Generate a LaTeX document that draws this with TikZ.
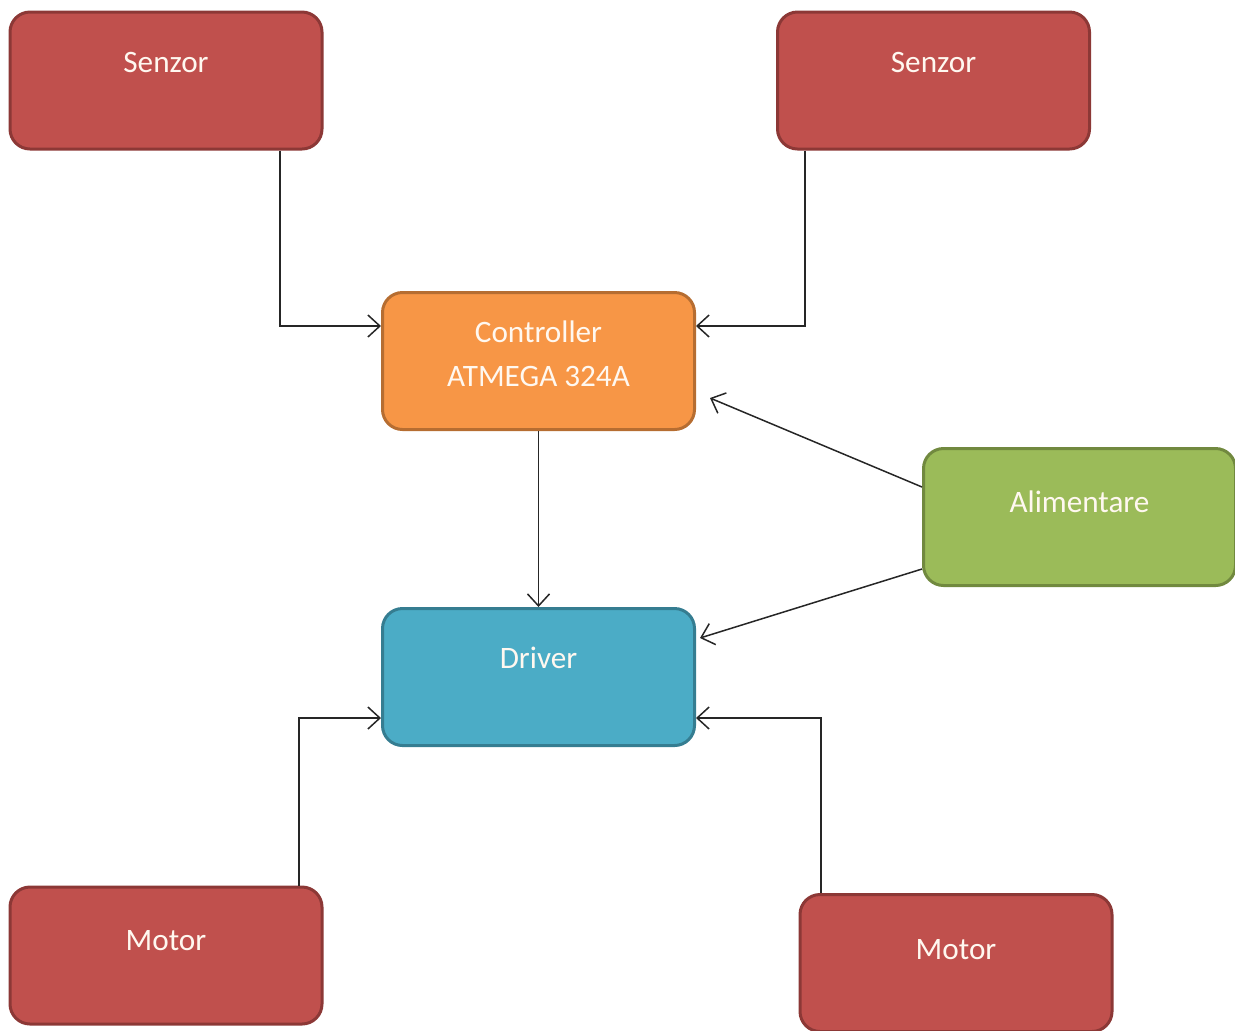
\documentclass[tikz,border=0pt]{standalone}
\usepackage{fontspec}
\setmainfont{Carlito}
\usepackage{tikz}
\usetikzlibrary{positioning,arrows.meta}
\tikzstyle{diagram} = [x = .5pt, y = -.5pt]
\definecolor{senzorColor}{HTML}{C0504D}
\definecolor{senzorBorder}{HTML}{8C3836}
\definecolor{controllerColor}{HTML}{F79646}
\definecolor{controllerBorder}{HTML}{B66D31}
\definecolor{powerColor}{HTML}{9BBB59}
\definecolor{powerBorder}{HTML}{71893F}
\definecolor{driverColor}{HTML}{4BACC6}
\definecolor{driverBorder}{HTML}{357D91}
\definecolor{linkColor}{HTML}{262626}
\definecolor{labelColor}{HTML}{FFF8F0}
\tikzstyle{blockStyle} = [rectangle, rounded corners = 10pt, line width = 1.5pt, minimum width = 156pt, minimum height = 68.5pt, inner sep = 0pt]
\tikzstyle{redBlock} = [blockStyle, fill=senzorColor, draw=senzorBorder]
\tikzstyle{orangeBlock} = [blockStyle, fill=controllerColor, draw=controllerBorder]
\tikzstyle{greenBlock} = [blockStyle, fill=powerColor, draw=powerBorder]
\tikzstyle{blueBlock} = [blockStyle, fill=driverColor, draw=driverBorder]
\tikzstyle{blockText} = [text=labelColor, font=\fontsize{15.6}{18}\selectfont, inner sep = 0pt, text height = 10pt, text depth = 0pt]
\tikzstyle{link} = [draw=linkColor, line width = .75pt, -{Straight Barb[length=6pt, width=11pt]}]
\newcommand{\blockNode}[5]{\node [#1] (#2) at (#3) {};
  \node [blockText] (#2Text) at ([yshift=#4]#2.north) {#5};}

\begin{document}
\begin{tikzpicture}[diagram]
        \useasboundingbox (0,0) rectangle (1235,1030);
        % blocks
        \blockNode{redBlock}{senzorL}{166,80.5}{-26.2pt}{Senzor}
        \blockNode{redBlock}{senzorR}{933.5,80.5}{-26.2pt}{Senzor}
        \blockNode{orangeBlock}{ctrl}{538.5,361}{-20.8pt}{Controller}
        \node [blockText] (ctrlTextB) at ([yshift=-42.8pt]ctrl.north) {ATMEGA 324A};
        \blockNode{greenBlock}{power}{1079.5,517}{-27.5pt}{Alimentare}
        \blockNode{blueBlock}{driver}{538.5,677}{-25.7pt}{Driver}
        \blockNode{redBlock}{motorL}{166,955.5}{-27.6pt}{Motor}
        \blockNode{redBlock}{motorR}{956,963}{-28.2pt}{Motor}
        % connectors
        \draw [link] ([xshift=57pt]senzorL.south) |- ([yshift=17.5pt]ctrl.west);
        \draw [link] ([xshift=-64.25pt]senzorR.south) |- ([yshift=17.5pt]ctrl.east);
        \draw [link] (ctrl.south) -- (driver.north);
        \draw [link] ([yshift=15pt]power.west) -- ([xshift=7pt, yshift=-18.5pt]ctrl.east);
        \draw [link] ([yshift=-26pt]power.west) -- ([xshift=2pt, yshift=19.5pt]driver.east);
        \draw [link] ([xshift=66.5pt]motorL.north) |- ([yshift=-20.5pt]driver.west);
        \draw [link] ([xshift=-67.5pt]motorR.north) |- ([yshift=-20.5pt]driver.east);
\end{tikzpicture}
\end{document}
